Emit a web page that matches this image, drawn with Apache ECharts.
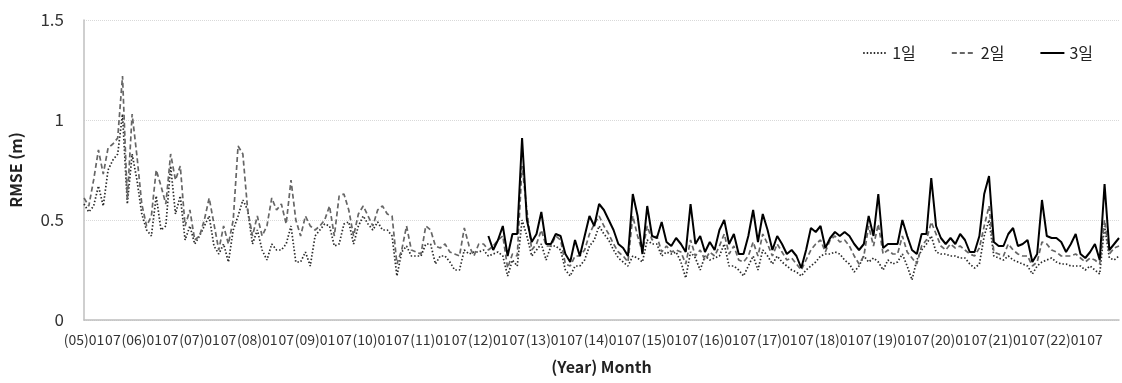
<!DOCTYPE html>
<html>
<head>
<meta charset="utf-8">
<script src="https://cdn.jsdelivr.net/npm/echarts@6/dist/echarts.min.js"></script>
<style>
  html, body { margin: 0; padding: 0; background: #fff; }
  #chart { width: 1122px; height: 383px; }
</style>
</head>
<body>
<div id="chart"></div>
<script>
  // 연도, 월 (2005.01 ~ 2022.12)
  var years = ['05','06','07','08','09','10','11','12','13','14','15','16','17','18','19','20','21','22'];
  var months = ['01','02','03','04','05','06','07','08','09','10','11','12'];
  var seriesNames = ['1일', '2일', '3일'];

  // 1일 RMSE
  var day1 = [
    0.58,0.54,0.57,0.67,0.57,0.75,0.80,0.83,1.03,0.58,0.83,0.70,
    0.53,0.45,0.42,0.62,0.45,0.47,0.77,0.53,0.62,0.40,0.47,0.38,
    0.42,0.47,0.52,0.37,0.33,0.38,0.29,0.45,0.52,0.60,0.55,0.38,
    0.45,0.35,0.30,0.38,0.35,0.35,0.38,0.47,0.29,0.29,0.34,0.27,
    0.42,0.45,0.48,0.47,0.37,0.38,0.48,0.49,0.38,0.47,0.52,0.48,
    0.45,0.49,0.45,0.45,0.42,0.22,0.34,0.37,0.32,0.32,0.32,0.38,
    0.38,0.28,0.32,0.32,0.29,0.25,0.25,0.35,0.33,0.34,0.34,0.35,
    0.32,0.33,0.34,0.32,0.22,0.30,0.27,0.50,0.42,0.32,0.35,0.38,
    0.30,0.37,0.37,0.35,0.25,0.22,0.27,0.27,0.30,0.37,0.40,0.47,
    0.43,0.40,0.35,0.31,0.29,0.27,0.32,0.31,0.29,0.40,0.38,0.38,
    0.32,0.34,0.33,0.34,0.29,0.21,0.34,0.31,0.25,0.32,0.30,0.31,
    0.32,0.38,0.27,0.27,0.25,0.22,0.27,0.32,0.25,0.35,0.32,0.28,
    0.32,0.29,0.27,0.25,0.24,0.22,0.25,0.27,0.29,0.32,0.33,0.33,
    0.34,0.33,0.30,0.28,0.24,0.27,0.32,0.29,0.31,0.29,0.25,0.30,
    0.28,0.29,0.33,0.27,0.20,0.30,0.35,0.38,0.42,0.34,0.33,0.33,
    0.32,0.32,0.31,0.31,0.28,0.26,0.28,0.42,0.50,0.32,0.31,0.30,
    0.32,0.30,0.29,0.28,0.27,0.23,0.27,0.29,0.30,0.31,0.29,0.28,
    0.28,0.27,0.27,0.27,0.25,0.27,0.25,0.23,0.47,0.31,0.30,0.32
  ];

  // 2일 RMSE
  var day2 = [
    0.61,0.57,0.70,0.85,0.73,0.86,0.88,0.91,1.22,0.60,1.03,0.82,
    0.58,0.47,0.52,0.75,0.67,0.58,0.83,0.70,0.77,0.47,0.55,0.40,
    0.42,0.50,0.61,0.48,0.35,0.47,0.38,0.50,0.87,0.83,0.55,0.42,
    0.52,0.42,0.47,0.61,0.55,0.58,0.48,0.70,0.50,0.42,0.52,0.47,
    0.45,0.47,0.50,0.57,0.42,0.62,0.63,0.55,0.42,0.53,0.57,0.52,
    0.47,0.55,0.57,0.53,0.52,0.28,0.35,0.47,0.35,0.34,0.33,0.47,
    0.45,0.37,0.36,0.38,0.34,0.33,0.32,0.46,0.37,0.32,0.38,0.38,
    0.35,0.37,0.40,0.42,0.26,0.33,0.32,0.77,0.55,0.35,0.38,0.45,
    0.37,0.37,0.42,0.40,0.28,0.27,0.32,0.32,0.35,0.43,0.48,0.52,
    0.47,0.43,0.38,0.34,0.32,0.29,0.52,0.42,0.34,0.47,0.40,0.42,
    0.34,0.37,0.34,0.35,0.34,0.28,0.40,0.32,0.35,0.30,0.34,0.32,
    0.37,0.43,0.33,0.37,0.30,0.29,0.32,0.39,0.32,0.43,0.38,0.32,
    0.38,0.34,0.30,0.31,0.28,0.25,0.30,0.35,0.38,0.40,0.34,0.40,
    0.42,0.39,0.40,0.37,0.32,0.28,0.32,0.47,0.37,0.48,0.33,0.35,
    0.33,0.33,0.42,0.34,0.31,0.28,0.37,0.40,0.49,0.43,0.37,0.35,
    0.38,0.36,0.37,0.35,0.33,0.32,0.36,0.47,0.57,0.34,0.33,0.32,
    0.38,0.35,0.33,0.32,0.32,0.27,0.29,0.39,0.38,0.35,0.34,0.32,
    0.32,0.32,0.33,0.31,0.29,0.31,0.30,0.28,0.50,0.33,0.36,0.37
  ];

  // 3일 RMSE (2012.01 부터)
  var day3 = [
    null,null,null,null,null,null,null,null,null,null,null,null,
    null,null,null,null,null,null,null,null,null,null,null,null,
    null,null,null,null,null,null,null,null,null,null,null,null,
    null,null,null,null,null,null,null,null,null,null,null,null,
    null,null,null,null,null,null,null,null,null,null,null,null,
    null,null,null,null,null,null,null,null,null,null,null,null,
    null,null,null,null,null,null,null,null,null,null,null,null,
    0.42,0.35,0.40,0.47,0.32,0.43,0.43,0.91,0.50,0.39,0.43,0.54,
    0.38,0.38,0.43,0.42,0.33,0.29,0.40,0.32,0.42,0.52,0.47,0.58,
    0.55,0.50,0.45,0.38,0.36,0.32,0.63,0.52,0.33,0.57,0.42,0.41,
    0.49,0.39,0.37,0.41,0.38,0.34,0.58,0.38,0.42,0.34,0.39,0.35,
    0.45,0.50,0.38,0.43,0.33,0.33,0.42,0.55,0.39,0.53,0.45,0.35,
    0.42,0.38,0.33,0.35,0.32,0.26,0.35,0.46,0.44,0.47,0.36,0.41,
    0.44,0.42,0.44,0.42,0.38,0.35,0.38,0.52,0.42,0.63,0.36,0.38,
    0.38,0.38,0.50,0.42,0.35,0.33,0.43,0.43,0.71,0.47,0.41,0.38,
    0.41,0.38,0.43,0.40,0.34,0.34,0.42,0.63,0.72,0.39,0.37,0.37,
    0.43,0.46,0.37,0.38,0.40,0.29,0.33,0.60,0.42,0.41,0.41,0.39,
    0.34,0.38,0.43,0.33,0.31,0.34,0.38,0.30,0.68,0.35,0.38,0.41
  ];

  var categories = [];
  years.forEach(function(y) {
    months.forEach(function(m) {
      categories.push('(' + y + ')' + m);
    });
  });

  var chartDom = document.getElementById('chart');
  var chart = echarts.init(chartDom);

  var fontKR = '"Noto Sans CJK KR", "Noto Sans", sans-serif';

  var option = {
    animation: false,
    textStyle: { fontFamily: fontKR },
    legend: {
      data: seriesNames,
      right: 24,
      top: 40,
      itemWidth: 24,
      itemHeight: 10,
      itemGap: 35,
      itemStyle: { opacity: 0 },
      textStyle: { fontSize: 16, color: '#222', fontFamily: fontKR }
    },
    grid: {
      left: 80,
      right: -3,
      top: 20,
      bottom: 63
    },
    xAxis: {
      type: 'category',
      data: categories,
      boundaryGap: false,
      name: '(Year) Month',
      nameLocation: 'middle',
      nameGap: 39,
      nameTextStyle: { fontSize: 16, fontWeight: 'bold', color: '#222', fontFamily: fontKR },
      axisLine: { lineStyle: { color: '#bfbfbf', width: 1.5 } },
      axisTick: { show: false },
      axisLabel: {
        interval: 0,
        margin: 13,
        fontSize: 14,
        color: '#333',
        formatter: function(v) {
          var m = v.slice(4);
          if (m === '01') return v;
          if (m === '07') return '07';
          return '';
        }
      },
      splitLine: { show: false }
    },
    yAxis: {
      type: 'value',
      min: 0,
      max: 1.5,
      interval: 0.5,
      name: 'RMSE (m)',
      nameLocation: 'middle',
      nameGap: 60,
      nameTextStyle: { fontSize: 16, fontWeight: 'bold', color: '#222', fontFamily: fontKR },
      axisLine: { show: true, lineStyle: { color: '#bfbfbf', width: 1.5 } },
      axisTick: { show: false },
      axisLabel: { fontSize: 17, color: '#333', margin: 20 },
      splitLine: { lineStyle: { color: '#d9d9d9', type: 'dotted' } }
    },
    series: [
      {
        name: seriesNames[0],
        type: 'line',
        data: day1,
        symbol: 'none',
        lineStyle: { color: '#2a2a2a', width: 1.7, type: [1.5, 2] },
        itemStyle: { color: '#2a2a2a' }
      },
      {
        name: seriesNames[1],
        type: 'line',
        data: day2,
        symbol: 'none',
        lineStyle: { color: '#666', width: 1.7, type: [5, 3] },
        itemStyle: { color: '#666' }
      },
      {
        name: seriesNames[2],
        type: 'line',
        data: day3,
        symbol: 'none',
        connectNulls: false,
        lineStyle: { color: '#000', width: 2 },
        itemStyle: { color: '#000' }
      }
    ]
  };

  chart.setOption(option);
</script>
</body>
</html>
